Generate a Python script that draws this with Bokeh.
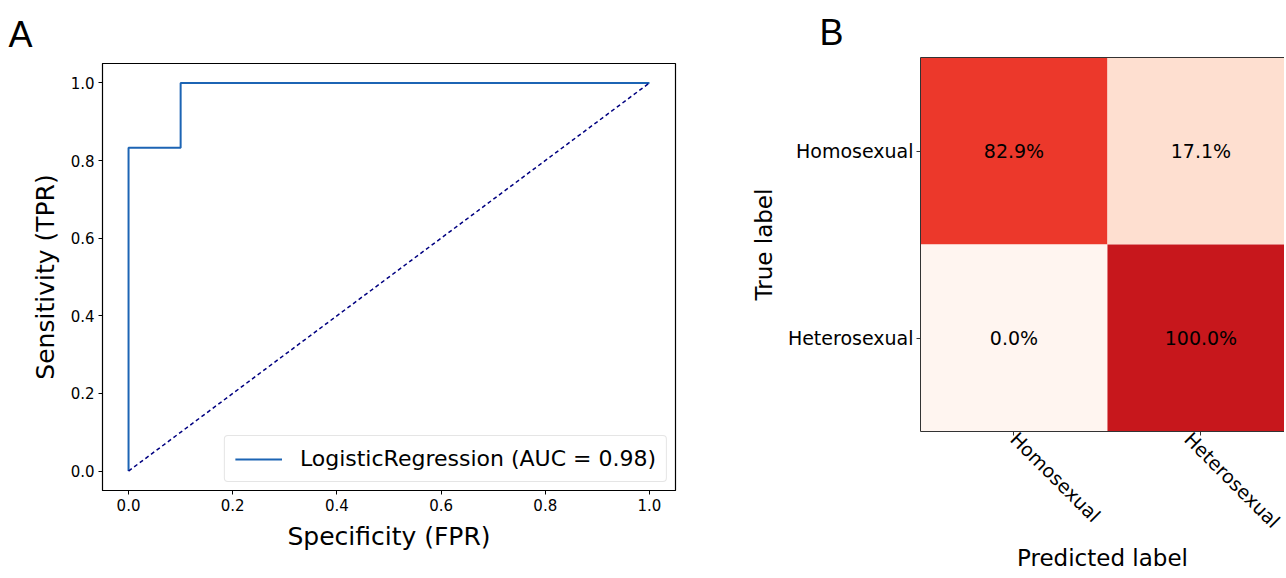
import math
from bokeh.plotting import figure
from bokeh.layouts import row
from bokeh.models import (ColumnDataSource, Range1d, FixedTicker, PrintfTickFormatter,
                          LinearAxis, Title, Legend, LegendItem, LinearColorMapper)
from bokeh.palettes import Reds256
from bokeh.embed import file_html
from bokeh.resources import INLINE
from bokeh.core.properties import value

# ---------------- data ----------------
fpr = [0.0, 0.0, 0.1, 0.1, 1.0]
tpr = [0.0, 0.833, 0.833, 1.0, 1.0]
chance_x = [0.0, 1.0]
chance_y = [0.0, 1.0]
roc_label = "LogisticRegression (AUC = 0.98)"
roc_ticks = [0.0, 0.2, 0.4, 0.6, 0.8, 1.0]

classes = ["Homosexual", "Heterosexual"]
cm_true_idx = [0, 0, 1, 1]
cm_pred_idx = [0, 1, 0, 1]
cm_values = [0.829, 0.171, 0.0, 1.0]

FONT = "DejaVu Sans"
PANEL_FONT = "Liberation Sans"
H = 574

# ---------------- panel A ----------------
pa = figure(width=728, height=H, output_backend="svg", toolbar_location=None,
            x_range=Range1d(-0.05, 1.05), y_range=Range1d(-0.05, 1.05),
            min_border_left=102, min_border_right=53, min_border_top=63,
            min_border_bottom=H - 490)
pa.grid.visible = False
pa.outline_line_color = "black"
pa.outline_line_width = 1.2

roc = pa.line(fpr, tpr, line_color="#1c64b4", line_width=2)
pa.line(chance_x, chance_y, line_color="navy", line_width=1.5, line_dash="4 3")

for ax in (pa.xaxis[0], pa.yaxis[0]):
    ax.ticker = FixedTicker(ticks=roc_ticks)
    ax.formatter = PrintfTickFormatter(format="%.1f")
    ax.major_label_text_font = FONT
    ax.major_label_text_font_size = "15px"
    ax.major_label_text_color = "black"
    ax.axis_label_text_font = FONT
    ax.axis_label_text_font_size = "25px"
    ax.axis_label_text_font_style = "normal"
    ax.axis_label_text_color = "black"
    ax.axis_line_color = "black"
    ax.major_tick_line_color = "black"
    ax.major_tick_out = 4
    ax.major_tick_in = 0
    ax.minor_tick_out = 0
    ax.minor_tick_in = 0
    ax.major_label_standoff = 4
    ax.axis_label_standoff = 8
pa.xaxis.axis_label = "Specificity (FPR)"
pa.yaxis.axis_label = "Sensitivity (TPR)"

legend = Legend(items=[LegendItem(label=roc_label, renderers=[roc])],
                location="bottom_right", margin=8, padding=10,
                glyph_width=47, glyph_height=22, label_standoff=18,
                label_text_font=FONT, label_text_font_size="22px",
                label_text_color="black",
                border_line_color="#cccccc", border_line_width=1,
                background_fill_color="white", background_fill_alpha=0.8)
try:
    legend.border_radius = 4
except Exception:
    pass
pa.add_layout(legend)

ta = Title(text="A", align="left", offset=-94, standoff=18,
           text_font=PANEL_FONT, text_font_size="36px", text_font_style="normal",
           text_color="black")
pa.add_layout(ta, "above")

# ---------------- panel B ----------------
pb = figure(width=556, height=H, output_backend="svg", toolbar_location=None,
            x_range=Range1d(-0.5, 1.447), y_range=Range1d(1.5, -0.5),
            min_border_left=192, min_border_right=0, min_border_top=57,
            min_border_bottom=H - 431)
pb.grid.visible = False
pb.outline_line_color = None

mapper = LinearColorMapper(palette=list(Reds256)[::-1], low=0.0, high=1.31)
src = ColumnDataSource(dict(
    x=cm_pred_idx, y=cm_true_idx, v=cm_values,
    txt=[f"{v * 100:.1f}%" for v in cm_values],
))
pb.rect(x="x", y="y", width=1, height=1, source=src,
        fill_color={"field": "v", "transform": mapper}, line_color=None)
pb.text(x="x", y="y", text="txt", source=src, text_align="center", text_baseline="middle",
        text_font=value(FONT), text_font_size="19px", text_color="black")

labels = {i: c for i, c in enumerate(classes)}
for ax in (pb.xaxis[0], pb.yaxis[0]):
    ax.ticker = FixedTicker(ticks=list(labels.keys()))
    ax.major_label_overrides = labels
    ax.major_label_text_font = FONT
    ax.major_label_text_font_size = "19px"
    ax.major_label_text_color = "black"
    ax.axis_label_text_font = FONT
    ax.axis_label_text_font_size = "23px"
    ax.axis_label_text_font_style = "normal"
    ax.axis_label_text_color = "black"
    ax.axis_line_color = "#333333"
    ax.major_tick_line_color = "#333333"
    ax.major_tick_out = 4
    ax.major_tick_in = 0
    ax.minor_tick_out = 0
    ax.minor_tick_in = 0
pb.yaxis.major_label_standoff = 3
pb.yaxis.axis_label_standoff = 8
pb.xaxis.major_label_standoff = 0
pb.xaxis.axis_label_standoff = 2
pb.xaxis.major_label_orientation = -math.pi / 4
pb.xaxis.axis_label = "Predicted label"
pb.yaxis.axis_label = "True label"

top_axis = LinearAxis(ticker=FixedTicker(ticks=[]), major_tick_out=0, major_tick_in=0,
                      minor_tick_out=0, minor_tick_in=0, axis_line_color="#333333",
                      major_label_text_font_size="0px")
pb.add_layout(top_axis, "above")

tb = Title(text="B", align="left", offset=-101, standoff=10,
           text_font=PANEL_FONT, text_font_size="36px", text_font_style="normal",
           text_color="black")
pb.add_layout(tb, "above")

for p in (pa, pb):
    try:
        p.frame_align = False
    except Exception:
        pass

layout = row(pa, pb)
open("out.html", "w").write(file_html(layout, INLINE))
